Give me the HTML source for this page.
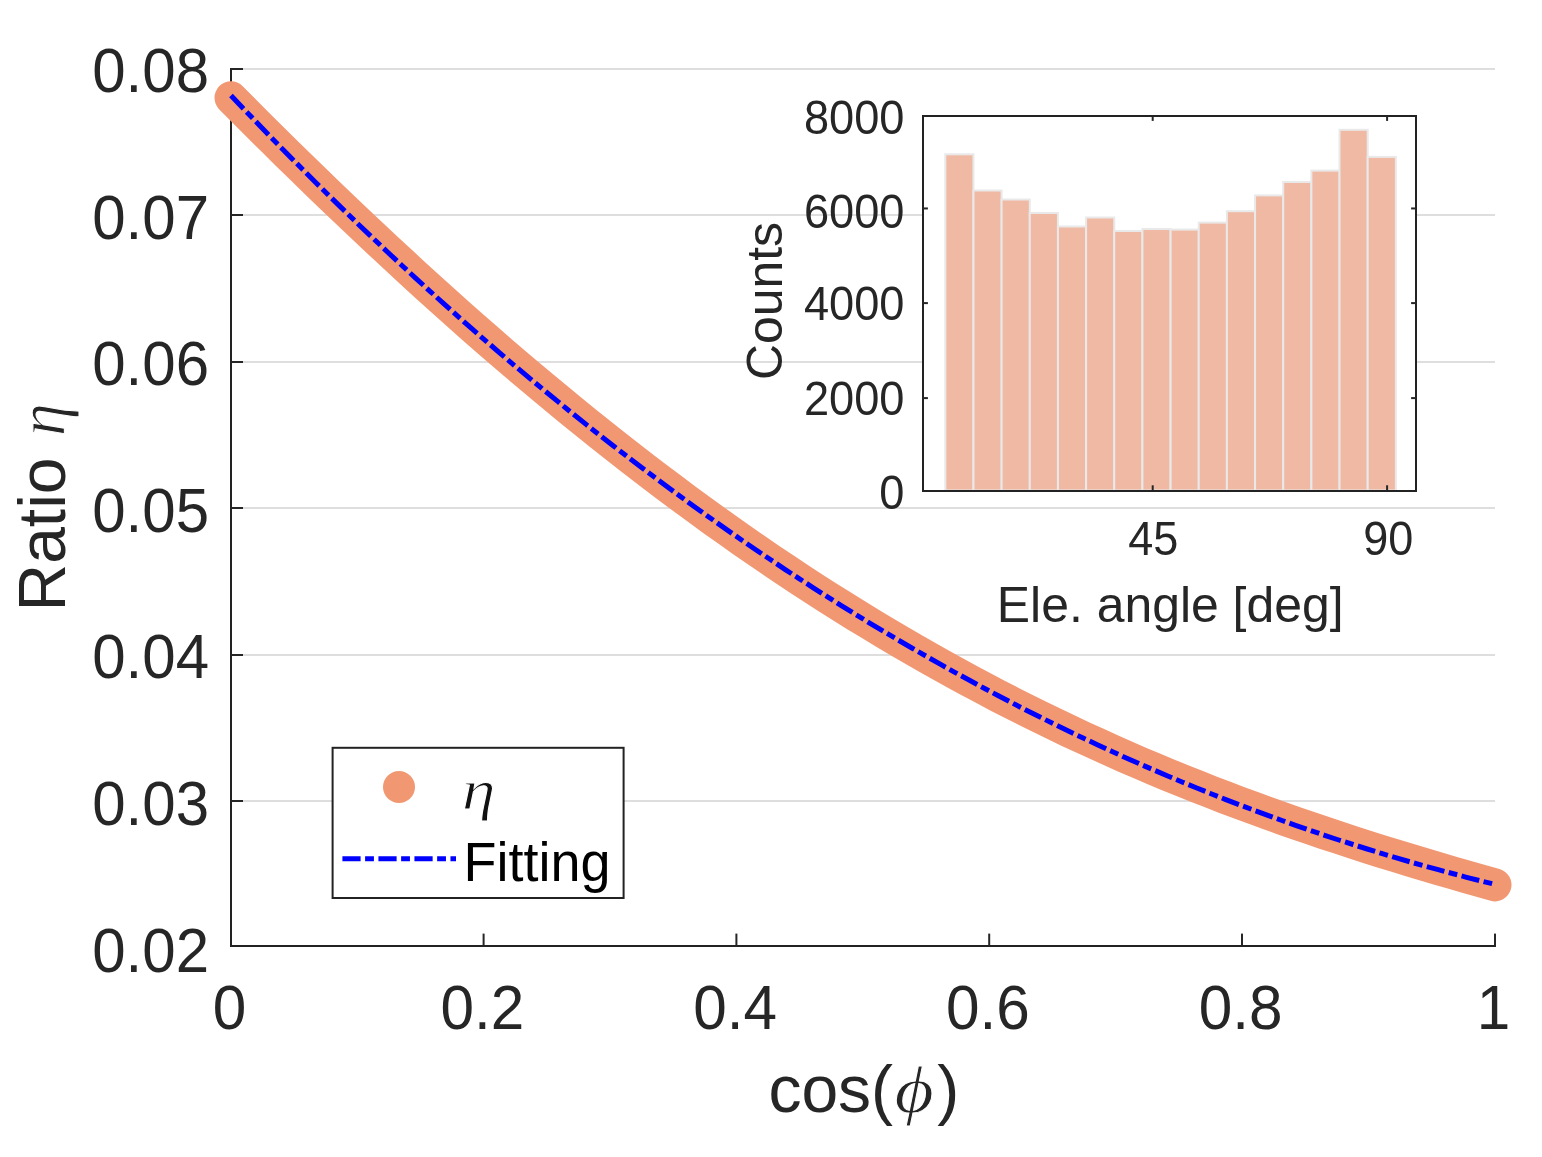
<!DOCTYPE html>
<html lang="en"><head><meta charset="utf-8"><title>Ratio vs cos(phi)</title>
<style>
html,body{margin:0;padding:0;background:#fff;}
body{width:1542px;height:1157px;overflow:hidden;}
svg{display:block;}
text{font-family:"Liberation Sans",sans-serif;fill:#262626;}
.math{font-family:"Liberation Serif",serif;font-style:italic;}
</style></head><body>
<svg width="1542" height="1157" viewBox="0 0 1542 1157">
<rect width="1542" height="1157" fill="#fff"/>

<g shape-rendering="crispEdges">
<rect x="232" y="68" width="1263" height="2" fill="#dedede"/>
<rect x="232" y="214" width="1263" height="2" fill="#dedede"/>
<rect x="232" y="361" width="1263" height="2" fill="#dedede"/>
<rect x="232" y="507" width="1263" height="2" fill="#dedede"/>
<rect x="232" y="654" width="1263" height="2" fill="#dedede"/>
<rect x="232" y="800" width="1263" height="2" fill="#dedede"/>
</g>
<g shape-rendering="crispEdges" fill="#222222">
<rect x="230" y="68" width="2" height="879"/>
<rect x="230" y="945" width="1266" height="2"/>
</g>
<g fill="#262626">
<rect x="231" y="68" width="11.6" height="2" shape-rendering="crispEdges"/>
<rect x="231" y="214" width="11.6" height="2" shape-rendering="crispEdges"/>
<rect x="231" y="361" width="11.6" height="2" shape-rendering="crispEdges"/>
<rect x="231" y="507" width="11.6" height="2" shape-rendering="crispEdges"/>
<rect x="231" y="654" width="11.6" height="2" shape-rendering="crispEdges"/>
<rect x="231" y="800" width="11.6" height="2" shape-rendering="crispEdges"/>
<rect x="482.6" y="933.6" width="2" height="12"/>
<rect x="735.4" y="933.6" width="2" height="12"/>
<rect x="988.2" y="933.6" width="2" height="12"/>
<rect x="1241.0" y="933.6" width="2" height="12"/>
<rect x="1494" y="933.6" width="2" height="12"/>
</g>
<text transform="translate(209.0,92.2) scale(1.0,1.05)" font-size="60" text-anchor="end">0.08</text>
<text transform="translate(209.0,238.6) scale(1.0,1.05)" font-size="60" text-anchor="end">0.07</text>
<text transform="translate(209.0,385.1) scale(1.0,1.05)" font-size="60" text-anchor="end">0.06</text>
<text transform="translate(209.0,531.5) scale(1.0,1.05)" font-size="60" text-anchor="end">0.05</text>
<text transform="translate(209.0,678.0) scale(1.0,1.05)" font-size="60" text-anchor="end">0.04</text>
<text transform="translate(209.0,824.5) scale(1.0,1.05)" font-size="60" text-anchor="end">0.03</text>
<text transform="translate(209.0,971.7) scale(1.0,1.05)" font-size="60" text-anchor="end">0.02</text>
<text transform="translate(229.5,1028.8) scale(1.005,1.05)" font-size="60" text-anchor="middle">0</text>
<text transform="translate(482.3,1028.8) scale(1.005,1.05)" font-size="60" text-anchor="middle">0.2</text>
<text transform="translate(735.1,1028.8) scale(1.005,1.05)" font-size="60" text-anchor="middle">0.4</text>
<text transform="translate(987.9,1028.8) scale(1.005,1.05)" font-size="60" text-anchor="middle">0.6</text>
<text transform="translate(1240.7,1028.8) scale(1.005,1.05)" font-size="60" text-anchor="middle">0.8</text>
<text transform="translate(1493.5,1028.8) scale(1.005,1.05)" font-size="60" text-anchor="middle">1</text>
<text x="768.4" y="1111.5" font-size="66">cos(</text>
<text transform="translate(894.5,1111.5) scale(1.15,1)" class="math" font-size="66" style="fill:#262626;stroke:#fff;stroke-width:0.9px">ϕ</text>
<text x="937.3" y="1111.5" font-size="66">)</text>
<text transform="translate(64.8,611.5) rotate(-90) scale(1,1.01)" font-size="66">Ratio <tspan class="math" dx="3" style="fill:#262626;stroke:#fff;stroke-width:1px">η</tspan></text>
<polyline points="231.0,97.8 245.2,112.1 259.4,126.3 273.6,140.4 287.8,154.4 302.0,168.3 316.2,182.1 330.4,195.8 344.6,209.4 358.8,222.9 373.0,236.3 387.2,249.5 401.4,262.7 415.6,275.8 429.8,288.7 444.0,301.5 458.2,314.2 472.4,326.8 486.6,339.2 500.8,351.6 515.0,363.7 529.2,375.8 543.4,387.7 557.7,399.5 571.9,411.2 586.1,422.7 600.3,434.1 614.5,445.4 628.7,456.5 642.9,467.5 657.1,478.3 671.3,489.0 685.5,499.6 699.7,510.0 713.9,520.3 728.1,530.4 742.3,540.4 756.5,550.3 770.7,560.0 784.9,569.5 799.1,578.9 813.3,588.2 827.5,597.3 841.7,606.3 855.9,615.1 870.1,623.8 884.3,632.4 898.5,640.8 912.7,649.1 926.9,657.2 941.1,665.2 955.3,673.0 969.5,680.7 983.7,688.3 997.9,695.8 1012.1,703.1 1026.3,710.2 1040.5,717.3 1054.7,724.2 1068.9,731.0 1083.1,737.6 1097.3,744.1 1111.5,750.5 1125.7,756.8 1139.9,763.0 1154.1,769.0 1168.3,774.9 1182.6,780.7 1196.8,786.4 1211.0,792.0 1225.2,797.5 1239.4,802.9 1253.6,808.1 1267.8,813.3 1282.0,818.4 1296.2,823.3 1310.4,828.2 1324.6,833.0 1338.8,837.7 1353.0,842.4 1367.2,846.9 1381.4,851.4 1395.6,855.8 1409.8,860.1 1424.0,864.4 1438.2,868.6 1452.4,872.8 1466.6,876.9 1480.8,880.9 1495.0,884.9" fill="none" stroke="#f19873" stroke-width="33" stroke-linecap="round" stroke-linejoin="round"/>
<polyline points="231.0,95.5 245.2,110.5 259.4,125.3 273.6,139.9 287.8,154.4 302.0,168.8 316.2,183.0 330.4,197.0 344.6,210.9 358.8,224.7 373.0,238.2 387.2,251.7 401.4,265.0 415.6,278.1 429.8,291.1 444.0,303.9 458.2,316.6 472.4,329.2 486.6,341.6 500.8,353.8 515.0,366.0 529.2,377.9 543.4,389.7 557.7,401.4 571.9,413.0 586.1,424.4 600.3,435.6 614.5,446.7 628.7,457.7 642.9,468.5 657.1,479.2 671.3,489.8 685.5,500.2 699.7,510.5 713.9,520.6 728.1,530.6 742.3,540.5 756.5,550.2 770.7,559.8 784.9,569.3 799.1,578.6 813.3,587.8 827.5,596.8 841.7,605.8 855.9,614.6 870.1,623.3 884.3,631.8 898.5,640.2 912.7,648.5 926.9,656.6 941.1,664.7 955.3,672.6 969.5,680.3 983.7,688.0 997.9,695.5 1012.1,702.9 1026.3,710.2 1040.5,717.3 1054.7,724.4 1068.9,731.3 1083.1,738.0 1097.3,744.7 1111.5,751.2 1125.7,757.7 1139.9,764.0 1154.1,770.1 1168.3,776.2 1182.6,782.2 1196.8,788.0 1211.0,793.7 1225.2,799.3 1239.4,804.8 1253.6,810.1 1267.8,815.4 1282.0,820.5 1296.2,825.6 1310.4,830.5 1324.6,835.3 1338.8,840.0 1353.0,844.5 1367.2,849.0 1381.4,853.4 1395.6,857.6 1409.8,861.8 1424.0,865.8 1438.2,869.7 1452.4,873.5 1466.6,877.3 1480.8,880.9 1495.0,884.4" fill="none" stroke="#0000ff" stroke-width="5" stroke-dasharray="18.2 4.5 8.82 4.5"/>
<rect x="332.6" y="747.8" width="291" height="150.2" fill="#fff" stroke="#222222" stroke-width="2"/>
<circle cx="399" cy="787" r="16" fill="#f19873"/>
<line x1="342.4" y1="858.7" x2="456" y2="858.7" stroke="#0000ff" stroke-width="5" stroke-dasharray="18.2 4.5 8.82 4.5"/>
<text transform="translate(462,809) scale(1.2,1.0)" class="math" font-size="56" style="fill:#111;stroke:#fff;stroke-width:0.9px">η</text>
<text transform="translate(463.6,881.3) scale(1.0,1.025)" font-size="54" text-anchor="start" style="fill:#000">Fitting</text>
<rect x="923" y="116" width="493" height="374.5" fill="#fff"/>
<g fill="#f0b9a3" stroke="#e9e9e9" stroke-width="2">
<rect x="945.30" y="154.3" width="28.16" height="336.2"/>
<rect x="973.46" y="190.5" width="28.16" height="300.0"/>
<rect x="1001.62" y="199.5" width="28.16" height="291.0"/>
<rect x="1029.78" y="213.0" width="28.16" height="277.5"/>
<rect x="1057.94" y="226.5" width="28.16" height="264.0"/>
<rect x="1086.10" y="217.5" width="28.16" height="273.0"/>
<rect x="1114.26" y="231.0" width="28.16" height="259.5"/>
<rect x="1142.42" y="229.0" width="28.16" height="261.5"/>
<rect x="1170.58" y="229.6" width="28.16" height="260.9"/>
<rect x="1198.74" y="222.6" width="28.16" height="267.9"/>
<rect x="1226.90" y="211.2" width="28.16" height="279.3"/>
<rect x="1255.06" y="195.4" width="28.16" height="295.1"/>
<rect x="1283.22" y="182.0" width="28.16" height="308.5"/>
<rect x="1311.38" y="170.6" width="28.16" height="319.9"/>
<rect x="1339.54" y="129.8" width="28.16" height="360.7"/>
<rect x="1367.70" y="156.9" width="28.16" height="333.6"/>
</g>
<g shape-rendering="crispEdges" fill="#222222">
<rect x="922" y="115" width="2" height="377"/>
<rect x="1415" y="115" width="2" height="377"/>
<rect x="922" y="115" width="495" height="2"/>
<rect x="922" y="490" width="495" height="2"/>
</g>
<g fill="#262626">
<rect x="923" y="207.45" width="4.9" height="2"/>
<rect x="1411.1" y="207.45" width="4.9" height="2"/>
<rect x="923" y="302.10" width="4.9" height="2"/>
<rect x="1411.1" y="302.10" width="4.9" height="2"/>
<rect x="923" y="397.10" width="4.9" height="2"/>
<rect x="1411.1" y="397.10" width="4.9" height="2"/>
<rect x="1151.7" y="116" width="2" height="4.9"/>
<rect x="1151.7" y="485.3" width="2" height="4.9"/>
<rect x="1386.1" y="116" width="2" height="4.9"/>
<rect x="1386.1" y="485.3" width="2" height="4.9"/>
</g>
<text transform="translate(904.5,133.8) scale(1.005,1.05)" font-size="45" text-anchor="end">8000</text>
<text transform="translate(904.5,228.3) scale(1.005,1.05)" font-size="45" text-anchor="end">6000</text>
<text transform="translate(904.5,319.6) scale(1.005,1.05)" font-size="45" text-anchor="end">4000</text>
<text transform="translate(904.5,415.3) scale(1.005,1.05)" font-size="45" text-anchor="end">2000</text>
<text transform="translate(904.5,509.3) scale(1.005,1.05)" font-size="45" text-anchor="end">0</text>
<text transform="translate(1153.3,554.6) scale(1.0,1.05)" font-size="45" text-anchor="middle">45</text>
<text transform="translate(1388.3,554.6) scale(1.0,1.05)" font-size="45" text-anchor="middle">90</text>
<text transform="translate(1170.2,621.7) scale(1.008,1.01)" font-size="49.5" text-anchor="middle">Ele. angle [deg]</text>
<text transform="translate(781.5,301) rotate(-90) scale(1.008,1.01)" font-size="49.5" text-anchor="middle">Counts</text>
</svg></body></html>
